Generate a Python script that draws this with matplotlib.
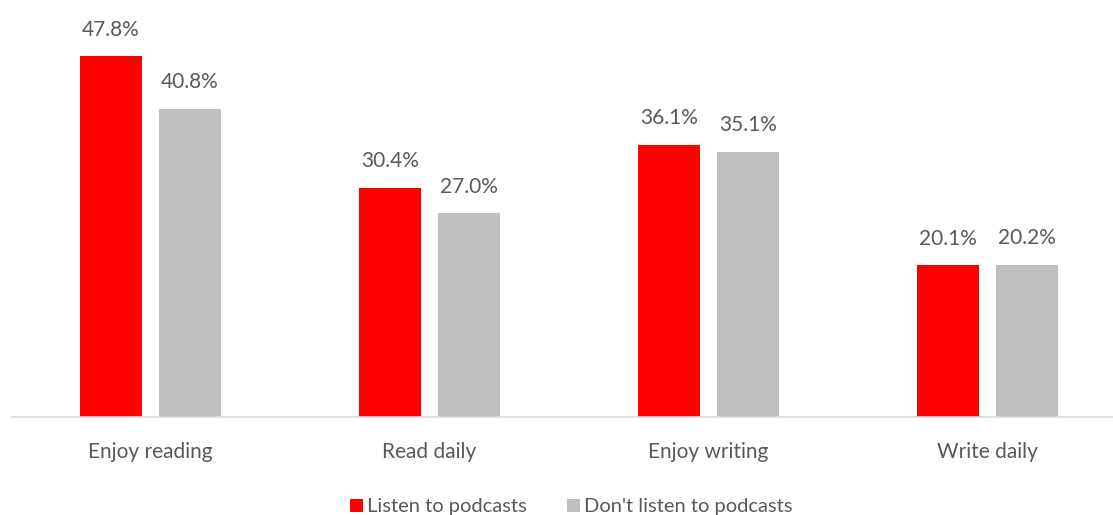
import matplotlib.pyplot as plt
import numpy as np

categories = ['Enjoy reading', 'Read daily', 'Enjoy writing', 'Write daily']
listen = [47.8, 30.4, 36.1, 20.1]
dont_listen = [40.8, 27.0, 35.1, 20.2]
series_names = ['Listen to podcasts', "Don't listen to podcasts"]

plt.rcParams['font.family'] = ['Lato', 'DejaVu Sans']
text_color = '#595959'

fig = plt.figure(figsize=(11.13, 5.15), dpi=100)
ax = fig.add_axes([12 / 1113, 98 / 515, 1101 / 1113, 397 / 515])

x = np.arange(len(categories))
width = 0.222
offset = 0.1416

bars1 = ax.bar(x - offset, listen, width, color='#ff0000', label=series_names[0])
bars2 = ax.bar(x + offset, dont_listen, width, color='#bfbfbf', label=series_names[1])

# value labels above each bar
for bars, vals in ((bars1, listen), (bars2, dont_listen)):
    for b, v in zip(bars, vals):
        ax.annotate(f'{v:.1f}%', (b.get_x() + b.get_width() / 2, v),
                    xytext=(0, 12), textcoords='offset points',
                    ha='center', va='bottom', fontsize=15, color=text_color)

ax.set_xlim(-0.4964, 3.4498)
ax.set_ylim(0, 52.6)
ax.set_xticks(x)
ax.set_xticklabels(categories, fontsize=15, color=text_color)
ax.tick_params(axis='x', length=0, pad=18)
ax.set_yticks([])
for side in ('top', 'right', 'left'):
    ax.spines[side].set_visible(False)
ax.spines['bottom'].set_color('#d9d9d9')
ax.spines['bottom'].set_linewidth(1.2)

fig.legend(loc='lower center', bbox_to_anchor=(0.513, -0.036), ncol=2,
           frameon=False, fontsize=14.5, handlelength=0.65, handleheight=0.65,
           handletextpad=0.2, columnspacing=2.0, labelcolor=text_color)

fig.savefig('out.png', dpi=100)
